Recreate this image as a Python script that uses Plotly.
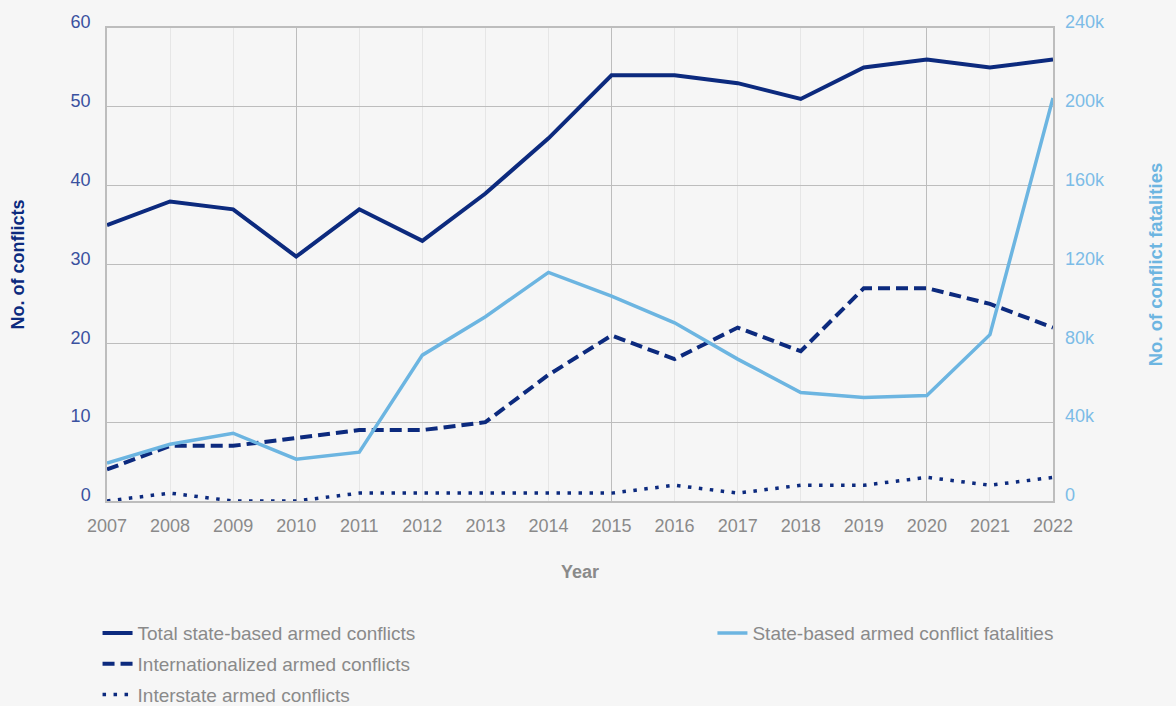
import plotly.graph_objects as go

years = list(range(2007, 2023))
total_conflicts = [35, 38, 37, 31, 37, 33, 39, 46, 54, 54, 53, 51, 55, 56, 55, 56]
internationalized = [4, 7, 7, 8, 9, 9, 10, 16, 21, 18, 22, 19, 27, 27, 25, 22]
interstate = [0, 1, 0, 0, 1, 1, 1, 1, 1, 2, 1, 2, 2, 3, 2, 3]
fatalities = [19200, 28800, 34400, 21200, 24800, 74000, 93500, 116000, 104000,
              90400, 72000, 55000, 52500, 53500, 84400, 204500]

left_ticks = [0, 10, 20, 30, 40, 50, 60]
right_tickvals = [0, 40000, 80000, 120000, 160000, 200000, 240000]
right_ticktext = ["0", "40k", "80k", "120k", "160k", "200k", "240k"]
major_years = [2010, 2015, 2020]

NAVY = "#0c2a7e"
LIGHT = "#6cb5e1"
GRAY_TXT = "#8a8a8a"
FONT = "Liberation Sans, Arial, sans-serif"

fig = go.Figure()
fig.add_trace(go.Scatter(x=years, y=total_conflicts, mode="lines",
                         name="Total state-based armed conflicts",
                         line=dict(color=NAVY, width=4), legend="legend",
                         legendgroup="a"))
fig.add_trace(go.Scatter(x=years, y=internationalized, mode="lines",
                         name="Internationalized armed conflicts",
                         line=dict(color=NAVY, width=4, dash="12px,6px"),
                         legend="legend", legendgroup="b"))
fig.add_trace(go.Scatter(x=years, y=interstate, mode="lines",
                         name="Interstate armed conflicts",
                         line=dict(color=NAVY, width=3.5, dash="3.5px,7.5px"),
                         legend="legend", legendgroup="c"))
fig.add_trace(go.Scatter(x=years, y=fatalities, mode="lines",
                         name="State-based armed conflict fatalities",
                         line=dict(color=LIGHT, width=3.5),
                         xaxis="x2", yaxis="y2", legend="legend2"))

fig.update_layout(
    width=1176, height=706,
    paper_bgcolor="#f6f6f6", plot_bgcolor="#f6f6f6",
    margin=dict(l=107, r=123, t=26, b=205),
    font=dict(family=FONT, size=16, color=GRAY_TXT),
    xaxis=dict(range=[2007, 2022], tickvals=years, ticktext=[str(y) for y in years],
               showgrid=True, gridcolor="#e6e6e6", gridwidth=1,
               showline=True, linecolor="#bdbdbd", linewidth=1.5, mirror=True,
               zeroline=False, ticks="", tickfont=dict(size=18, color=GRAY_TXT),
               ticklabelstandoff=8,
               title=dict(text="<b>Year</b>", font=dict(size=18, color=GRAY_TXT),
                          standoff=30)),
    xaxis2=dict(range=[2007, 2022], overlaying="x", tickvals=major_years,
                showticklabels=False, showgrid=True, gridcolor="#bdbdbd",
                gridwidth=1.2, zeroline=False, ticks="", matches="x"),
    yaxis=dict(range=[0, 60], tickvals=left_ticks, showgrid=True,
               gridcolor="#bdbdbd", gridwidth=1.2, zeroline=False, ticks="",
               showline=True, linecolor="#bdbdbd", linewidth=1.5, mirror=True,
               tickfont=dict(size=18, color="#3a519f"), ticklabelstandoff=11,
               ticklabelshift=-6,
               title=dict(text="<b>No. of conflicts</b>",
                          font=dict(size=18, color=NAVY), standoff=41)),
    yaxis2=dict(range=[0, 240000], overlaying="y", side="right",
                tickvals=right_tickvals, ticktext=right_ticktext,
                showgrid=False, zeroline=False, ticks="",
                tickfont=dict(size=18, color="#7cbce7"), ticklabelstandoff=11,
                ticklabelshift=-6,
                title=dict(text="<b>No. of conflict fatalities</b>",
                           font=dict(size=18.5, color=LIGHT), standoff=45)),
    legend=dict(x=-0.01, xanchor="left", yref="container", y=0.13,
                yanchor="top", orientation="v", traceorder="grouped",
                tracegroupgap=3, bgcolor="rgba(0,0,0,0)",
                font=dict(size=19, color=GRAY_TXT)),
    legend2=dict(x=0.64, xanchor="left", yref="container", y=0.13,
                 yanchor="top", orientation="v", bgcolor="rgba(0,0,0,0)",
                 font=dict(size=19, color=GRAY_TXT)),
    showlegend=True,
)

fig.write_html("out.html", config={"displayModeBar": False},
               post_script="document.body.style.margin='0';document.body.style.padding='0';")
